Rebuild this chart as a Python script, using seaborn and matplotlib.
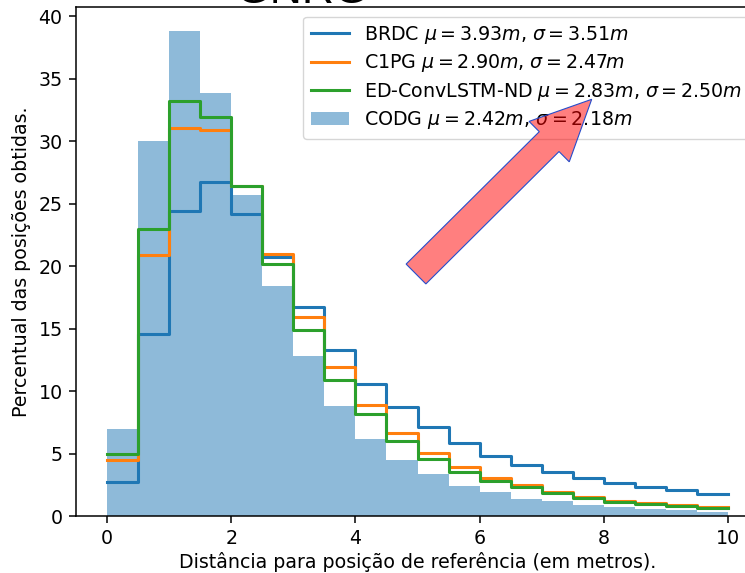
import numpy as np
import pandas as pd
import matplotlib
matplotlib.use("Agg")
import matplotlib.pyplot as plt
from matplotlib.patches import FancyArrow
import seaborn as sns

# ---- data (percent per bin, bins of 0.5 m) ----
bin_edges = np.arange(0, 10.01, 0.5)
codg = [7.0, 30.0, 38.8, 33.9, 25.7, 18.4, 12.8, 8.8, 6.2, 4.5,
        3.4, 2.4, 1.9, 1.4, 1.2, 0.85, 0.75, 0.6, 0.5, 0.35]
brdc = [2.7, 14.6, 24.45, 26.75, 24.2, 20.7, 16.7, 13.3, 10.6, 8.7,
        7.1, 5.87, 4.8, 4.08, 3.55, 3.04, 2.61, 2.35, 2.08, 1.76]
c1pg = [4.45, 20.9, 31.1, 30.9, 26.45, 21.0, 15.9, 11.95, 8.88, 6.67,
        5.05, 3.92, 3.05, 2.45, 1.89, 1.55, 1.23, 1.01, 0.85, 0.69]
ed_conv = [5.0, 23.0, 33.2, 31.95, 26.4, 20.2, 14.9, 10.9, 8.13, 6.03,
           4.6, 3.55, 2.83, 2.29, 1.87, 1.47, 1.15, 0.96, 0.8, 0.67]

labels = {
    "brdc": r"BRDC $\mu = 3.93m$, $\sigma = 3.51m$",
    "c1pg": r"C1PG $\mu = 2.90m$, $\sigma = 2.47m$",
    "ed": r"ED-ConvLSTM-ND $\mu = 2.83m$, $\sigma = 2.50m$",
    "codg": r"CODG $\mu = 2.42m$, $\sigma = 2.18m$",
}
xlabel = "Distância para posição de referência (em metros)."
ylabel = "Percentual das posições obtidas."
title_text = "GNRG"

S = 1.37  # overall scale of the screenshot relative to matplotlib defaults
plt.rcParams.update({
    "font.size": 10 * S,
    "axes.linewidth": 0.8 * S,
    "xtick.major.size": 3.5 * S, "ytick.major.size": 3.5 * S,
    "xtick.major.width": 0.8 * S, "ytick.major.width": 0.8 * S,
    "xtick.major.pad": 3.5 * S, "ytick.major.pad": 3.5 * S,
})

W, H, DPI = 745, 573, 100
fig = plt.figure(figsize=(W / DPI, H / DPI), dpi=DPI)
ax = fig.add_axes([76 / W, (H - 516) / H, (759 - 76) / W, (516 - 7) / H])

centers = bin_edges[:-1] + 0.25
df_codg = pd.DataFrame({"x": centers, "w": np.asarray(codg, dtype=float)})
sns.histplot(data=df_codg, x="x", weights="w", binwidth=0.5, binrange=(0, 10),
             color="#1f77b4", alpha=0.5, linewidth=0, label=labels["codg"], ax=ax)

for vals, col, key in [(brdc, "#1f77b4", "brdc"), (c1pg, "#ff7f0e", "c1pg"),
                       (ed_conv, "#2ca02c", "ed")]:
    y = np.append(vals, vals[-1])
    sns.lineplot(x=bin_edges, y=y, drawstyle="steps-post", color=col,
                 linewidth=2.2, label=labels[key], ax=ax)

ax.set_xlim(-0.5, 10.5)
ax.set_ylim(0, 40.75)
ax.set_xticks([0, 2, 4, 6, 8, 10])
ax.set_yticks(range(0, 41, 5))
ax.set_xlabel(xlabel, labelpad=3.0)
ax.set_ylabel(ylabel, labelpad=4.0 * S)

handles, labs = ax.get_legend_handles_labels()
ax.legend(handles, labs, loc="upper right", fontsize=10 * S, labelspacing=0.33)

fig.text(303 / W, 1 - 3.0 / H, title_text, fontsize=32, ha="center",
         va="baseline", family="Liberation Sans")

arrow = FancyArrow(4.16, 2.99, 1.757, 1.747, width=0.28, head_width=0.57,
                   head_length=0.60, length_includes_head=True,
                   facecolor=(1, 0, 0, 0.5), edgecolor=(0.15, 0.3, 0.8, 1),
                   linewidth=0.8, transform=fig.dpi_scale_trans, zorder=5)
fig.add_artist(arrow)

fig.savefig("out.png", dpi=DPI)
